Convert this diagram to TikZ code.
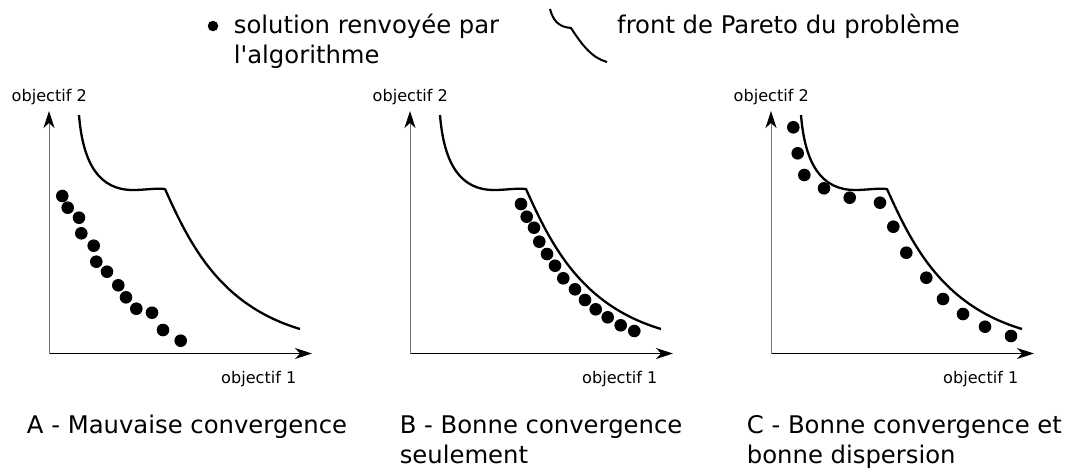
\documentclass[tikz,border=0pt]{standalone}
\usepackage{fontspec}
\setmainfont{DejaVu Sans}
\usetikzlibrary{arrows.meta}
\begin{document}
\begin{tikzpicture}[x=1pt,y=-1pt,
  frontline/.style={line width=2.3pt, line join=round},
  lblbig/.style={font=\fontsize{24.3}{30}\selectfont, inner sep=0pt, align=left},
  lblsmall/.style={font=\fontsize{16.1}{19}\selectfont, inner sep=0pt},
  axtip/.style={-{Stealth[length=17pt,width=11pt,inset=5pt,color=black]}},
  xaxis/.style={axtip, line width=1.3pt, black},
  yaxis/.style={axtip, line width=1pt, black!55},
  sol/.style={circle, fill=black, inner sep=0pt, minimum size=12.6pt},
  front/.pic={\draw[frontline] (79,115) .. controls (83,165) and (100,190) .. (133,190)
      .. controls (145,190) and (155,188) .. (165,189)
      .. controls (190,245) and (220,305) .. (300,329);},
  axes/.pic={
    \coordinate (-o) at (49,353.5);
    \coordinate (-x) at (312,353.5);
    \coordinate (-y) at (49,111);
    \draw[xaxis] (-o) -- (-x);
    \draw[yaxis] (-o) -- (-y);
    \node[lblsmall, anchor=base west] (-ylab) at (11.5,101.5) {objectif 2};
    \node[lblsmall, anchor=base west] (-xlab) at (221,383) {objectif 1};
  }]
\useasboundingbox[fill=white] (0,0) rectangle (1068,471);

% legend
\node[circle, fill=black, inner sep=0pt, minimum size=10.5pt] (legdot) at (213,26) {};
\node[lblbig, anchor=north west] (legsol) at (233.7,14.3) {solution renvoyée par\\l{\textquotesingle}algorithme};
\draw[line width=2pt] (550,9) .. controls (553,20) and (558,27) .. (571,28)
   .. controls (582,45) and (592,58) .. (607,62);
\node[lblbig, anchor=base west] (legfront) at (617,33) {front de Pareto du problème};

% panel A
\begin{scope}
  \pic (A) {axes};
  \pic {front};
  \foreach \p in {(62.3,196),(67.7,207.7),(79,217.7),(81.3,233.3),(93.7,245.7),(96.3,261.7),(107,271.7),(118.3,285.3),(126,297.3),(136.3,308.7),(152,312.7),(163,330),(180.7,340.7)}
    \node[sol] at \p {};
\end{scope}
\node[lblbig, anchor=base west] (labA) at (26.8,433) {A - Mauvaise convergence};

% panel B
\begin{scope}[shift={(361,0)}]
  \pic (B) {axes};
  \pic {front};
  \foreach \p in {(160,204),(165.7,216.7),(173,227.7),(178.3,241.7),(186,254),(194,265.7),(202.3,278.3),(214,289.3),(224,300),(234.7,309.3),(246.7,317.3),(259.7,325.3),(273.3,331)}
    \node[sol] at \p {};
\end{scope}
\node[lblbig, anchor=north west] (labB) at (399.6,415.3) {B - Bonne convergence\\seulement};

% panel C
\begin{scope}[shift={(722,0)}]
  \pic (C) {axes};
  \pic {front};
  \foreach \p in {(71.3,127.3),(75.7,153.3),(82.3,175),(102,188.3),(127.7,197.7),(158,202.7),(171.3,226.7),(184.3,252.7),(204.3,277.7),(221,299),(241,314),(263,326.7),(289,336)}
    \node[sol] at \p {};
\end{scope}
\node[lblbig, anchor=north west] (labC) at (746.7,415) {C - Bonne convergence et\\bonne dispersion};
\end{tikzpicture}
\end{document}
